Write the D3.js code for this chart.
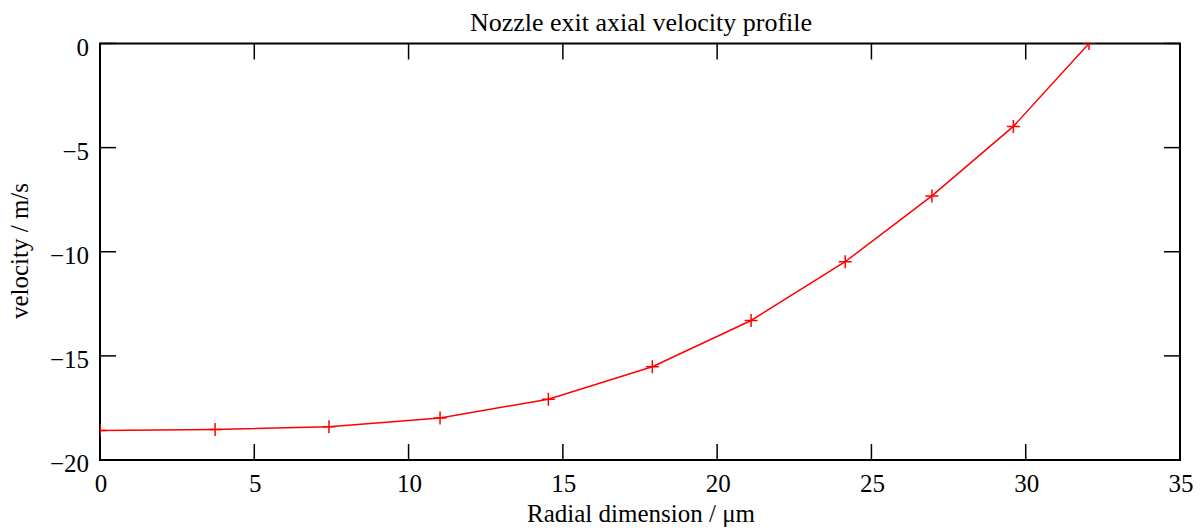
<!DOCTYPE html>
<html><head><meta charset="utf-8">
<script src="https://cdn.jsdelivr.net/npm/d3@7"></script>
<style>
body{margin:0;background:#fff;}
</style></head>
<body><svg id="c" width="1204" height="531" font-family="'Liberation Serif', 'Times New Roman', Times, serif"></svg>
<script>
const radius = [0, 3.73, 7.42, 11.02, 14.53, 17.9, 21.1, 24.15, 26.96, 29.6, 32.05];
const velocity = [-18.58, -18.53, -18.4, -17.98, -17.08, -15.52, -13.3, -10.48, -7.32, -3.98, 0];
const xTicks = [0, 5, 10, 15, 20, 25, 30, 35];
const yTicks = [0, -5, -10, -15, -20];
const title = "Nozzle exit axial velocity profile";
const xLabel = "Radial dimension / μm";
const yLabel = "velocity / m/s";

const svg = d3.select("#c");
const L = 100, R = 1180, T = 43.5, B = 460;
const x = d3.scaleLinear().domain([0, 35]).range([L, R]);
const y = d3.scaleLinear().domain([-20, 0]).range([B, T]);
const tl = 16;
const fs = 25;
const fmt = d => d < 0 ? "\u2212" + Math.abs(d) : String(d);

svg.append("defs").append("clipPath").attr("id", "clip")
  .append("rect").attr("x", L).attr("y", T).attr("width", R - L).attr("height", B - T);

const g = svg.append("g").attr("stroke", "#000").attr("stroke-width", 1.5);
xTicks.forEach(t => {
  g.append("line").attr("x1", x(t)).attr("x2", x(t)).attr("y1", B).attr("y2", B - tl);
  g.append("line").attr("x1", x(t)).attr("x2", x(t)).attr("y1", T).attr("y2", T + tl);
});
yTicks.forEach(t => {
  g.append("line").attr("x1", L).attr("x2", L + tl).attr("y1", y(t)).attr("y2", y(t));
  g.append("line").attr("x1", R).attr("x2", R - tl).attr("y1", y(t)).attr("y2", y(t));
});
svg.append("rect").attr("x", L).attr("y", T).attr("width", R - L).attr("height", B - T)
  .attr("fill", "none").attr("stroke", "#000").attr("stroke-width", 2);

svg.selectAll(".xl").data(xTicks).enter().append("text")
  .attr("x", d => x(d) + 1).attr("y", 492).attr("text-anchor", "middle")
  .attr("font-size", fs).text(d => d);
svg.selectAll(".yl").data(yTicks).enter().append("text")
  .attr("x", 89).attr("y", d => y(d) + 12).attr("text-anchor", "end")
  .attr("font-size", fs).text(fmt);

svg.append("text").attr("x", 641).attr("y", 31).attr("text-anchor", "middle").attr("font-size", 26).text(title);
svg.append("text").attr("x", 641).attr("y", 522).attr("text-anchor", "middle").attr("font-size", fs).text(xLabel);
svg.append("text").attr("transform", "translate(28,251) rotate(-90)").attr("text-anchor", "middle").attr("font-size", fs).text(yLabel);

const pts = radius.map((r, i) => [r, velocity[i]]);
const dg = svg.append("g").attr("clip-path", "url(#clip)");
dg.append("path").datum(pts)
  .attr("d", d3.line().x(d => x(d[0])).y(d => y(d[1])))
  .attr("fill", "none").attr("stroke", "#ff0000").attr("stroke-width", 1.5);
const s = 6.5;
dg.selectAll(".m").data(pts).enter().append("path")
  .attr("d", d => `M${x(d[0]) - s},${y(d[1])}H${x(d[0]) + s}M${x(d[0])},${y(d[1]) - s}V${y(d[1]) + s}`)
  .attr("stroke", "#ff0000").attr("stroke-width", 1.5);
</script></body></html>
